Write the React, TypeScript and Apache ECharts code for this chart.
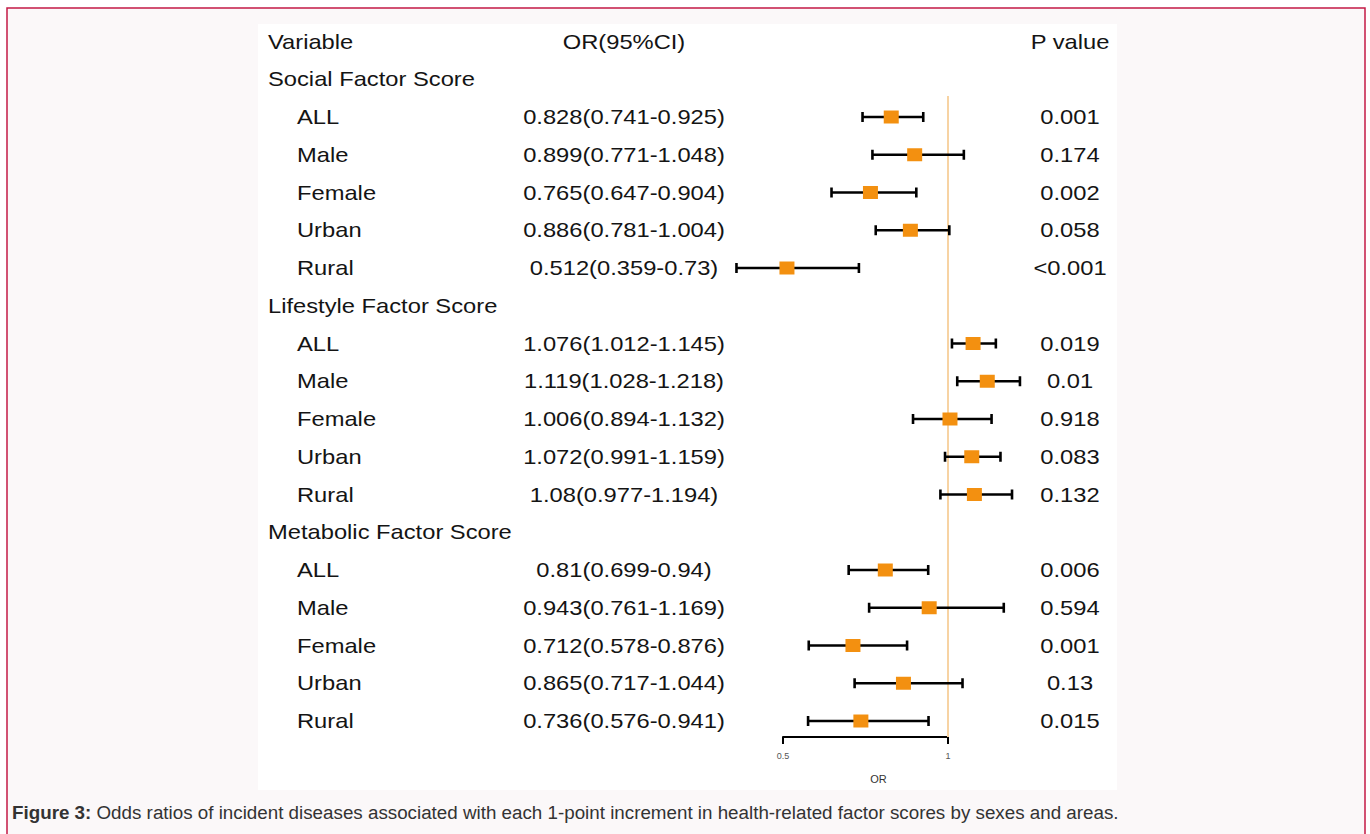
import React, { useEffect, useRef } from "react";
import * as echarts from "echarts";

// ---------- data ----------
const headers = ["Variable", "OR(95%CI)", "P value"];
const groups = ["Social Factor Score", "Lifestyle Factor Score", "Metabolic Factor Score"];
const subgroups = ["ALL", "Male", "Female", "Urban", "Rural"];
const orValues = [
  [0.828, 0.899, 0.765, 0.886, 0.512],
  [1.076, 1.119, 1.006, 1.072, 1.08],
  [0.81, 0.943, 0.712, 0.865, 0.736],
];
const lowerCI = [
  [0.741, 0.771, 0.647, 0.781, 0.359],
  [1.012, 1.028, 0.894, 0.991, 0.977],
  [0.699, 0.761, 0.578, 0.717, 0.576],
];
const upperCI = [
  [0.925, 1.048, 0.904, 1.004, 0.73],
  [1.145, 1.218, 1.132, 1.159, 1.194],
  [0.94, 1.169, 0.876, 1.044, 0.941],
];
const pValues = [
  ["0.001", "0.174", "0.002", "0.058", "<0.001"],
  ["0.019", "0.01", "0.918", "0.083", "0.132"],
  ["0.006", "0.594", "0.001", "0.13", "0.015"],
];
const axisTicks = [0.5, 1];
const axisName = "OR";
const caption =
  "Odds ratios of incident diseases associated with each 1-point increment in health-related factor scores by sexes and areas.";

type Row = { label: string; indent: boolean; orText: string; pText: string; est?: number; lo?: number; hi?: number; header?: boolean };

function buildRows(): Row[] {
  const rows: Row[] = [{ label: headers[0], indent: false, orText: headers[1], pText: headers[2], header: true }];
  groups.forEach((g, gi) => {
    rows.push({ label: g, indent: false, orText: "", pText: "" });
    subgroups.forEach((s, si) => {
      const est = orValues[gi][si];
      const lo = lowerCI[gi][si];
      const hi = upperCI[gi][si];
      rows.push({
        label: s,
        indent: true,
        orText: `${est}(${lo}-${hi})`,
        pText: pValues[gi][si],
        est,
        lo,
        hi,
      });
    });
  });
  return rows;
}

export default function App() {
  const ref = useRef<HTMLDivElement>(null);

  useEffect(() => {
    if (!ref.current) return;
    const chart = echarts.init(ref.current, undefined, { renderer: "svg" });
    const rows = buildRows();
    const nRows = rows.length;
    const rowH = 37.75;
    const firstRowY = 41.5;
    const FONT = "'Liberation Sans', Arial, Helvetica, sans-serif";
    const TXT = "#141414";
    const SX = 1.13;

    const estData: number[][] = [];
    const ciData: number[][] = [];
    rows.forEach((r, i) => {
      if (r.est !== undefined) {
        estData.push([r.est, i]);
        ciData.push([i, r.lo as number, r.hi as number]);
      }
    });

    const option: any = {
      animation: false,
      graphic: [
        {
          type: "rect",
          z: -10,
          shape: { x: 7, y: 8, width: 1358, height: 900 },
          style: { fill: "#FBF8F9", stroke: "#C41A45", lineWidth: 1.5 },
        },
        {
          type: "rect",
          z: -9,
          shape: { x: 258, y: 24, width: 859, height: 766 },
          style: { fill: "#FFFFFF" },
        },
        {
          type: "text",
          z: -8,
          x: 12,
          y: 812,
          style: {
            text: "{b|Figure 3:} " + caption,
            fontSize: 18.8,
            fontFamily: FONT,
            fill: "#333333",
            verticalAlign: "middle",
            rich: { b: { fontWeight: "bold", fontSize: 18.8, fontFamily: FONT, fill: "#333333" } },
          },
        },
      ],
      grid: [
        { left: 717, top: firstRowY - rowH / 2, width: 330, height: rowH * nRows },
        { left: 783, top: 96, width: 165, height: 641 },
      ],
      xAxis: [
        { gridIndex: 0, type: "value", min: 0.3, max: 1.3, show: false },
        {
          gridIndex: 1,
          type: "value",
          min: axisTicks[0],
          max: axisTicks[1],
          interval: 0.5,
          name: axisName,
          nameLocation: "middle",
          nameGap: 36,
          nameTextStyle: { fontSize: 11, color: "#333", fontFamily: FONT, padding: [0, 0, 0, 26] },
          axisLine: { show: true, lineStyle: { color: "#000", width: 2 } },
          axisTick: { show: true, length: 7, lineStyle: { color: "#000", width: 2 } },
          axisLabel: { fontSize: 9, color: "#555", margin: 14, fontFamily: FONT },
          splitLine: { show: false },
        },
      ],
      yAxis: [
        { gridIndex: 0, type: "value", min: -0.5, max: nRows - 0.5, inverse: true, show: false },
        { gridIndex: 1, type: "value", min: 0, max: 1, show: false },
      ],
      series: [
        {
          type: "line",
          xAxisIndex: 1,
          yAxisIndex: 1,
          data: [
            [1, 0],
            [1, 1],
          ],
          symbol: "none",
          silent: true,
          lineStyle: { color: "#F7D3A3", width: 2 },
          z: 1,
        },
        {
          type: "custom",
          xAxisIndex: 0,
          yAxisIndex: 0,
          clip: false,
          z: 3,
          data: ciData,
          encode: { x: [1, 2], y: 0 },
          renderItem: (params: any, api: any) => {
            const row = api.value(0);
            const p1 = api.coord([api.value(1), row]);
            const p2 = api.coord([api.value(2), row]);
            const h = 5;
            const st = { stroke: "#000", lineWidth: 2.6 };
            return {
              type: "group",
              children: [
                { type: "line", shape: { x1: p1[0], y1: p1[1], x2: p2[0], y2: p2[1] }, style: st },
                { type: "line", shape: { x1: p1[0], y1: p1[1] - h, x2: p1[0], y2: p1[1] + h }, style: st },
                { type: "line", shape: { x1: p2[0], y1: p2[1] - h, x2: p2[0], y2: p2[1] + h }, style: st },
              ],
            };
          },
        },
        {
          type: "scatter",
          xAxisIndex: 0,
          yAxisIndex: 0,
          symbol: "rect",
          symbolSize: [15, 13],
          itemStyle: { color: "#F39010", opacity: 1 },
          data: estData,
          z: 4,
        },
        {
          type: "custom",
          xAxisIndex: 0,
          yAxisIndex: 0,
          clip: false,
          z: 5,
          data: rows.map((_, i) => [1, i]),
          encode: { x: 0, y: 1 },
          renderItem: (params: any, api: any) => {
            const r = rows[params.dataIndex];
            const y = api.coord([1, api.value(1)])[1];
            const mk = (text: string, x: number, align: string) => ({
              type: "text",
              x,
              y,
              scaleX: SX,
              style: {
                text,
                x: 0,
                y: 0,
                align,
                verticalAlign: "middle",
                fontSize: 21,
                fontFamily: FONT,
                fill: TXT,
              },
            });
            const children: any[] = [mk(r.label, r.indent ? 297 : 268, "left")];
            if (r.orText) children.push(mk(r.orText, 624, "center"));
            if (r.pText) children.push(mk(r.pText, 1070, "center"));
            return { type: "group", children };
          },
        },
      ],
    };
    chart.setOption(option);
    return () => chart.dispose();
  }, []);

  return (
    <div
      ref={ref}
      style={{ position: "absolute", left: 0, top: 0, width: 1370, height: 834, background: "#ffffff" }}
    />
  );
}
